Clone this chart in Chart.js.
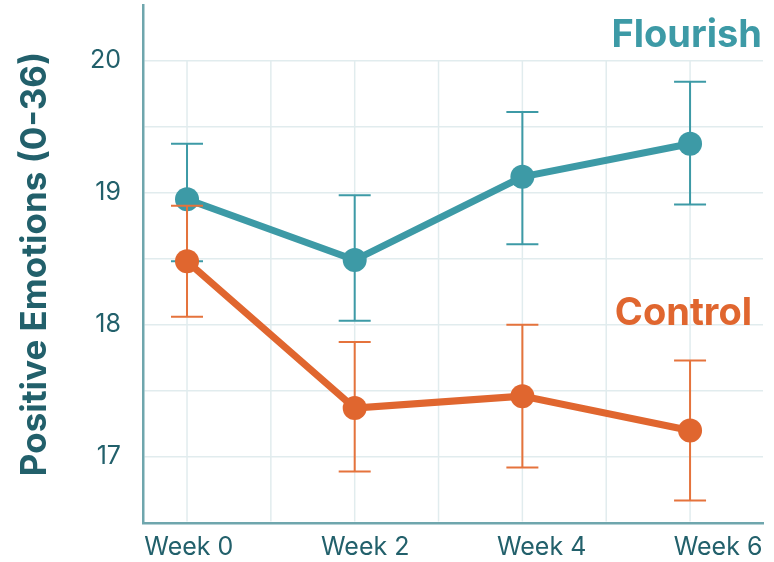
<!DOCTYPE html>
<html>
<head>
<meta charset="utf-8">
<script src="https://cdn.jsdelivr.net/npm/chart.js@4.4.0/dist/chart.umd.min.js"></script>
<style>
  html, body { margin: 0; padding: 0; background: #fff; }
  #wrap { width: 774px; height: 562px; }
</style>
</head>
<body>
<div id="wrap"><canvas id="canvas1"></canvas></div>
<script>
// values
const weeks = [0, 2, 4, 6];
const weekLabels = ['Week 0', 'Week 2', 'Week 4', 'Week 6'];
const flourishMean = [18.95, 18.49, 19.12, 19.37];
const flourishLow = [18.48, 18.03, 18.61, 18.91];
const flourishHigh = [19.37, 18.98, 19.61, 19.84];
const controlMean = [18.48, 17.37, 17.46, 17.2];
const controlLow = [18.06, 16.89, 16.92, 16.67];
const controlHigh = [18.90, 17.87, 18.00, 17.73];
const yTicks = [17, 18, 19, 20];

const TEAL = '#3d9aa6';
const ORANGE = '#e0662f';
const TEXT = '#22606b';
const AXIS = '#6fa6ad';
const GRID = '#e1ecee';
const FONT = "Inter, 'Noto Sans', sans-serif";

function points(means) {
    return weeks.map((w, i) => ({ x: w, y: means[i] }));
}

// error bars drawn under each dataset, using the chart scales
const errorBars = {
    id: 'errorBars',
    beforeDatasetDraw(chart, args) {
        const ds = chart.data.datasets[args.index];
        const xs = chart.scales.x, ys = chart.scales.y;
        const ctx = chart.ctx;
        ctx.save();
        ctx.strokeStyle = ds.errColor;
        ctx.lineWidth = 2;
        weeks.forEach((w, i) => {
            const x = xs.getPixelForValue(w);
            const y1 = ys.getPixelForValue(ds.low[i]);
            const y2 = ys.getPixelForValue(ds.high[i]);
            ctx.beginPath();
            ctx.moveTo(x, y1); ctx.lineTo(x, y2);
            ctx.moveTo(x - 16, y1); ctx.lineTo(x + 16, y1);
            ctx.moveTo(x - 16, y2); ctx.lineTo(x + 16, y2);
            ctx.stroke();
        });
        ctx.restore();
    }
};

// vertical grid lines stop at the top tick; series names on the right
const extras = {
    id: 'extras',
    beforeDatasetsDraw(chart) {
        const xs = chart.scales.x, ys = chart.scales.y;
        const ctx = chart.ctx;
        const top = ys.getPixelForValue(yTicks[yTicks.length - 1]);
        ctx.save();
        ctx.strokeStyle = GRID;
        ctx.lineWidth = 1.5;
        xs.ticks.forEach(t => {
            const x = xs.getPixelForValue(t.value);
            ctx.beginPath();
            ctx.moveTo(x, top);
            ctx.lineTo(x, chart.chartArea.bottom - 1.5);
            ctx.stroke();
        });
        ctx.restore();
    },
    afterDatasetsDraw(chart) {
        const ctx = chart.ctx;
        const right = chart.chartArea.right;
        ctx.save();
        ctx.font = 'bold 38px ' + FONT;
        ctx.textAlign = 'right';
        ctx.textBaseline = 'alphabetic';
        ctx.fillStyle = TEAL;
        ctx.fillText('Flourish', right - 1, 47);
        ctx.fillStyle = ORANGE;
        ctx.fillText('Control', right - 11, 325);
        ctx.restore();
    }
};

const data = {
    datasets: [{
        label: 'Flourish',
        data: points(flourishMean),
        low: flourishLow,
        high: flourishHigh,
        errColor: TEAL,
        borderColor: TEAL,
        backgroundColor: TEAL,
        borderWidth: 7,
        pointRadius: 12,
        pointHoverRadius: 12,
        pointBorderWidth: 0,
        order: 2
    }, {
        label: 'Control',
        data: points(controlMean),
        low: controlLow,
        high: controlHigh,
        errColor: '#e5733c',
        borderColor: ORANGE,
        backgroundColor: ORANGE,
        borderWidth: 7,
        pointRadius: 12,
        pointHoverRadius: 12,
        pointBorderWidth: 0,
        order: 1
    }]
};

const config = {
    type: 'line',
    data: data,
    options: {
        responsive: true,
        maintainAspectRatio: false,
        animation: false,
        layout: { autoPadding: false, padding: { top: 5, right: 11, left: 0, bottom: 0 } },
        plugins: {
            legend: { display: false },
            tooltip: { enabled: false }
        },
        scales: {
            x: {
                type: 'linear',
                position: 'bottom',
                min: -0.525,
                max: 6.87,
                weight: 0,
                ticks: { display: false, stepSize: 1, includeBounds: false },
                grid: { color: 'transparent', drawTicks: false },
                border: { color: AXIS, width: 2.5 },
                afterFit(scale) {
                    scale.height = 0;
                    scale.paddingLeft = 0;
                    scale.paddingRight = 0;
                }
            },
            xw: {
                type: 'linear',
                position: 'bottom',
                min: -0.52,
                max: 6.51,
                weight: 1,
                afterBuildTicks(scale) {
                    scale.ticks = weeks.map(v => ({ value: v }));
                },
                ticks: {
                    padding: 9,
                    color: TEXT,
                    font: { family: FONT, size: 25 },
                    maxRotation: 0,
                    autoSkip: false,
                    callback: v => weekLabels[weeks.indexOf(v)]
                },
                grid: { display: false, drawTicks: false },
                border: { display: false },
                afterFit(scale) {
                    scale.height = 39;
                    scale.paddingLeft = 0;
                    scale.paddingRight = 0;
                }
            },
            y: {
                min: 16.5,
                max: 20.42,
                ticks: {
                    stepSize: 0.5,
                    includeBounds: false,
                    padding: 22,
                    color: TEXT,
                    font: { family: FONT, size: 25 },
                    callback: v => (yTicks.includes(v) ? String(v) : '')
                },
                grid: { color: GRID, lineWidth: 1.5, drawTicks: false },
                border: { color: AXIS, width: 2.5 },
                title: {
                    display: true,
                    text: 'Positive Emotions (0-36)',
                    color: TEXT,
                    padding: { top: 14, bottom: 0 },
                    font: { family: FONT, size: 35, weight: 'bold' }
                },
                afterFit(scale) {
                    scale.width = 143;
                    scale.paddingTop = 0;
                    scale.paddingBottom = 0;
                }
            }
        }
    },
    plugins: [errorBars, extras]
};

const chart = new Chart(document.getElementById('canvas1'), config);
</script>
</body>
</html>
